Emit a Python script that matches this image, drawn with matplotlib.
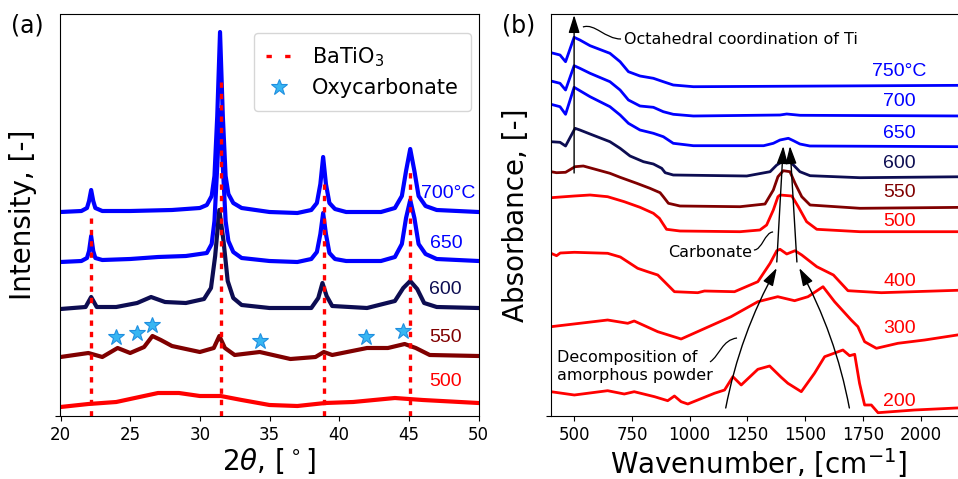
import matplotlib
matplotlib.use("Agg")
import matplotlib.pyplot as plt
from matplotlib.lines import Line2D
from matplotlib.path import Path
from matplotlib.patches import PathPatch

# ---------------- (a) XRD data ----------------
x700 = [20, 21.5, 21.9, 22.05, 22.2, 22.35, 22.5, 23, 25, 28, 30, 30.5, 30.85, 31.05, 31.25, 31.45, 31.65,
        31.85, 32.05, 32.4, 33, 35, 37, 38.0, 38.4, 38.65, 38.85, 39.05, 39.3, 39.7, 40.5, 43, 44.0, 44.5,
        44.8, 45.1, 45.4, 45.7, 46.2, 47, 50]
h700 = [204, 205, 208, 215, 226, 215, 208, 205, 205, 206, 208, 211, 220, 240, 300, 384, 300,
        240, 222, 213, 208, 204, 203, 206, 213, 232, 259, 232, 213, 207, 204, 204, 208, 220,
        245, 267, 245, 220, 210, 206, 204]

x650 = [20, 21.5, 21.9, 22.05, 22.2, 22.35, 22.5, 23, 25, 27, 29, 30.5, 30.85, 31.05, 31.25, 31.45, 31.65,
        31.85, 32.05, 32.4, 33, 35, 37, 38.0, 38.4, 38.65, 38.85, 39.05, 39.3, 39.7, 40.5, 43, 44.0, 44.5,
        44.8, 45.1, 45.4, 45.7, 46.2, 47, 50]
h650 = [154, 155, 158, 165, 180, 165, 158, 156, 157, 159, 160, 163, 172, 195, 250, 306, 250,
        195, 175, 164, 158, 155, 154, 157, 164, 182, 203, 182, 163, 157, 155, 155, 159, 172,
        198, 216, 198, 172, 162, 157, 155]

x600 = [20, 21.8, 22.2, 22.6, 24, 25.5, 26.5, 27.5, 29, 30.3, 30.8, 31.1, 31.4, 31.7, 32.0, 32.4, 33, 35,
        38, 38.5, 38.8, 39.1, 39.5, 42, 44.0, 44.6, 45.1, 45.6, 46.1, 47, 50]
h600 = [107, 109, 119, 109, 109, 113, 119, 114, 113, 117, 128, 160, 206, 175, 135, 118, 111, 108,
        108, 118, 133, 120, 110, 108, 115, 128, 135, 127, 113, 109, 108]

x550 = [20, 22, 23, 24.1, 25, 26, 26.6, 27.2, 28, 30, 31.0, 31.4, 31.8, 32.5, 34.3, 36.5, 38.3, 38.9,
        39.5, 42, 43.5, 44.7, 45.5, 46.5, 50]
h550 = [59, 63, 59, 68, 63, 69, 80, 76, 70, 64, 68, 80, 68, 61, 64, 57, 59, 64,
        61, 68, 68, 72, 68, 61, 60]

x500 = [20, 22, 24, 26, 27, 28.5, 30, 31.5, 33, 35, 37, 39, 41, 44, 46, 50]
h500 = [9, 12, 14, 20, 23, 23, 20, 20, 16, 11, 10, 13, 14, 18, 16, 13]

xrd_labels = ["700°C", "650", "600", "550", "500"]
xrd_label_x = [45.85, 46.5, 46.45, 46.45, 46.5]
xrd_label_h = [223, 173, 126, 78, 34]

bto_pos = [22.2, 31.5, 38.9, 45.1]
bto_top = [203, 336, 236, 249]

oxy_x = [24.0, 25.5, 26.6, 34.3, 41.9, 44.6]
oxy_h = [79, 83, 91, 75, 79, 85]

# ---------------- (b) FTIR data ----------------
w750 = [400, 439, 463, 500, 525, 569, 655, 699, 735, 785, 843, 886, 929, 1016, 2200]
a750 = [363.3, 361, 354.3, 378.7, 376, 370.3, 362.7, 354.3, 344.3, 340, 337.7, 334.3, 331, 329.3, 330.7]

w700 = [400, 439, 463, 500, 525, 569, 655, 699, 735, 785, 843, 886, 929, 1016, 1391, 1420, 1478, 2200]
a700 = [335, 332.7, 326, 350.3, 347.7, 342.7, 334.3, 326, 316, 310, 308.7, 304.3, 301.7, 300, 301, 302, 300.7, 300]

w650 = [400, 439, 463, 500, 525, 569, 655, 699, 735, 785, 843, 886, 929, 1016, 1320, 1362, 1391, 1427,
        1449, 1477, 1520, 2200]
a650 = [311.7, 309.3, 301.7, 328.7, 325.3, 319.3, 309.3, 301, 292.7, 286, 282.7, 279.3, 272.7, 270.3,
        270.3, 272.7, 276, 277.7, 275.3, 272, 270, 269.3]

w600 = [400, 439, 463, 504, 525, 569, 655, 699, 742, 800, 843, 879, 894, 929, 1247, 1348, 1377, 1405,
        1427, 1449, 1477, 1521, 1737, 2200]
a600 = [274.3, 273.7, 270, 287.7, 286, 282, 274.3, 267.7, 260, 254.3, 252, 247.7, 243.3, 241, 240,
        244.3, 251, 255, 255.3, 251, 244.3, 240.3, 238.3, 239.3]

w550 = [400, 424, 463, 504, 540, 655, 699, 771, 828, 872, 886, 908, 958, 1218, 1326, 1362, 1382,
        1405, 1434, 1456, 1485, 1521, 1737, 2200]
a550 = [244.3, 243.3, 243.7, 249.3, 250, 242.7, 238.7, 232.7, 227.7, 223.3, 219.3, 212.7, 210, 209.3,
        212, 226, 239.3, 245.3, 244.3, 232.7, 219.3, 211, 207.7, 208.7]

w500 = [400, 501, 569, 645, 717, 785, 843, 869, 883, 900, 958, 1218, 1304, 1333, 1362, 1382, 1391,
        1442, 1470, 1506, 1550, 1737, 2200]
a500 = [218.3, 220, 221, 219.3, 214.3, 208.7, 202.7, 197.7, 192.7, 186.7, 185, 184.3, 186, 191, 206,
        219.3, 221, 220, 209.3, 194.3, 186.7, 184.3, 184.3]

w400 = [400, 424, 440, 501, 645, 700, 775, 818, 862, 891, 934, 1035, 1064, 1194, 1295, 1348, 1377,
        1391, 1420, 1456, 1485, 1550, 1622, 1685, 1829, 2200]
a400 = [162.7, 160.3, 163, 163.7, 162.7, 159, 147.7, 144.3, 141, 134.3, 124.3, 123.3, 125, 124.3,
        134.3, 152.7, 165.3, 166.7, 162, 165.3, 161, 149.3, 141, 125.3, 123.3, 126]

w300 = [400, 645, 732, 760, 862, 963, 1179, 1295, 1381, 1454, 1512, 1577, 1627, 1699, 1728, 1757,
        1808, 1901, 2017, 2200]
a300 = [89.3, 96, 92.7, 95, 84.3, 77, 99.3, 114.3, 119.3, 115.3, 119.3, 129.3, 114.3, 96, 89.3, 74.3,
        67.7, 72.7, 76, 82.5]

w200 = [400, 501, 645, 717, 760, 848, 905, 934, 963, 992, 1107, 1151, 1187, 1223, 1295, 1346, 1396,
        1425, 1483, 1540, 1584, 1663, 1692, 1714, 1735, 1757, 1786, 1815, 1973, 2200]
a200 = [24.3, 21, 25.3, 22, 24.3, 19.3, 15.3, 20, 14.3, 12, 22.7, 26, 39.3, 31, 46.7, 50, 38.7,
        32.7, 24.3, 42.7, 59.3, 66, 60.3, 61.7, 32.7, 11, 11, 3.3, 6, 8.5]

ftir_labels = ["750°C", "700", "650", "600", "550", "500", "400", "300", "200"]
ftir_label_w = [2025, 1979, 1979, 1979, 1979, 1979, 1979, 1979, 1979]
ftir_label_a = [344.3, 314.3, 282.7, 252.7, 223.3, 194.3, 134.3, 87.7, 14.3]

BLUE = "#0000ff"
NAVY = "#0d0d52"
MAROON = "#800000"
RED = "#ff0000"

fig = plt.figure(figsize=(9.58, 4.79), dpi=100)
axa = fig.add_axes([60.5 / 958, 63 / 479, 418 / 958, 402 / 479])
axb = fig.add_axes([551 / 958, 63 / 479, 416 / 958, 402 / 479])

# ---------------- panel (a) ----------------
xrd_series = [(x500, h500, RED), (x550, h550, MAROON), (x650, h650, BLUE),
              (x600, h600, NAVY), (x700, h700, BLUE)]
for xs, hs, c in xrd_series:
    axa.plot(xs, hs, color=c, lw=3.0, solid_joinstyle="round")

for p, t in zip(bto_pos, bto_top):
    axa.plot([p, p], [0, t], color=RED, lw=2.4, linestyle=(0, (1.6, 1.8)), zorder=4)

axa.plot(oxy_x, oxy_h, linestyle="none", marker="*", ms=12, color="#38b6f2",
         markeredgecolor="#1f8fe0", markeredgewidth=0.8, zorder=5)

xrd_colors = [BLUE, BLUE, NAVY, MAROON, RED]
for lab, lx, lh, c in zip(xrd_labels, xrd_label_x, xrd_label_h, xrd_colors):
    axa.text(lx, lh, lab, color=c, fontsize=14, family="Liberation Sans", va="center", ha="left")

axa.set_xlim(20, 50)
axa.set_ylim(0, 402)
axa.set_xticks([20, 25, 30, 35, 40, 45, 50])
axa.set_yticks([0])
axa.set_yticklabels([""])
axa.tick_params(axis="both", labelsize=12)
axa.set_xlabel(r"$2\theta$, $[^\circ]$", fontsize=20, labelpad=2)
axa.set_ylabel("Intensity, [-]", fontsize=20, labelpad=10)

handles = [Line2D([], [], color=RED, lw=2.4, linestyle=(0, (1.6, 4.0))),
           Line2D([], [], linestyle="none", marker="*", ms=12, color="#38b6f2",
                  markeredgecolor="#1f8fe0", markeredgewidth=0.8)]
axa.legend(handles, [r"BaTiO$_3$", "Oxycarbonate"], loc="upper right",
           bbox_to_anchor=(0.983, 0.953), borderaxespad=0, fontsize=15,
           handlelength=1.2, handletextpad=1.0, labelspacing=0.45, borderpad=0.6)

fig.text(27.5 / 958, 1 - 25 / 479, "(a)", fontsize=17, ha="center", va="center")

# ---------------- panel (b) ----------------
ftir_series = [(w200, a200, RED), (w300, a300, RED), (w400, a400, RED), (w500, a500, RED),
               (w550, a550, MAROON), (w600, a600, NAVY), (w650, a650, BLUE),
               (w700, a700, BLUE), (w750, a750, BLUE)]
for ws, av, c in ftir_series:
    axb.plot(ws, av, color=c, lw=2.0, solid_joinstyle="round")

ftir_colors = [BLUE, BLUE, BLUE, NAVY, MAROON, RED, RED, RED, RED]
for lab, lx, la, c in zip(ftir_labels, ftir_label_w, ftir_label_a, ftir_colors):
    axb.text(lx, la, lab, color=c, fontsize=14, family="Liberation Sans", va="center", ha="right")

axb.set_xlim(400, 2200)
axb.set_ylim(0, 402)
axb.set_xticks([500, 750, 1000, 1250, 1500, 1750, 2000])
axb.set_yticks([0])
axb.set_yticklabels([""])
axb.tick_params(axis="both", labelsize=12)
axb.set_xlabel(r"Wavenumber, [cm$^{-1}$]", fontsize=20, labelpad=2)
axb.set_ylabel("Absorbance, [-]", fontsize=20, labelpad=8)

arrow_kw = dict(arrowstyle="-|>,head_length=0.9,head_width=0.28", color="black", lw=1.0,
                shrinkA=0, shrinkB=0, mutation_scale=12)

# Ti octahedral arrow
axb.annotate("", xy=(500, 401), xytext=(500, 243), arrowprops=arrow_kw)
axb.text(716, 376, "Octahedral coordination of Ti", fontsize=11.5, va="center", ha="left")

# Carbonate arrows
axb.annotate("", xy=(1405, 270), xytext=(1377, 154), arrowprops=arrow_kw)
axb.annotate("", xy=(1434, 270), xytext=(1464, 154), arrowprops=arrow_kw)
axb.text(1088, 163.5, "Carbonate", fontsize=11.5, va="center", ha="center")

# Decomposition arrows
axb.annotate("", xy=(1377, 148), xytext=(1156, 8),
             arrowprops=dict(arrow_kw, connectionstyle="arc3,rad=-0.08"))
axb.annotate("", xy=(1474, 148), xytext=(1691, 8),
             arrowprops=dict(arrow_kw, connectionstyle="arc3,rad=0.08"))
axb.text(427, 49.5, "Decomposition of\namorphous powder", fontsize=11.5, va="center", ha="left",
         linespacing=1.3)

# S-shaped leader lines
leaders = [
    [(538, 389), (590, 393), (634, 377), (703, 377)],
    [(1278, 166), (1313, 166), (1326, 184), (1361, 184)],
    [(1088, 54), (1131, 61), (1140, 76), (1205, 78)],
]
for pts in leaders:
    path = Path(pts, [Path.MOVETO, Path.CURVE4, Path.CURVE4, Path.CURVE4])
    axb.add_patch(PathPatch(path, fill=False, lw=0.9, edgecolor="black"))

fig.text(519 / 958, 1 - 25 / 479, "(b)", fontsize=17, ha="center", va="center")

fig.savefig("out.png", dpi=100)
